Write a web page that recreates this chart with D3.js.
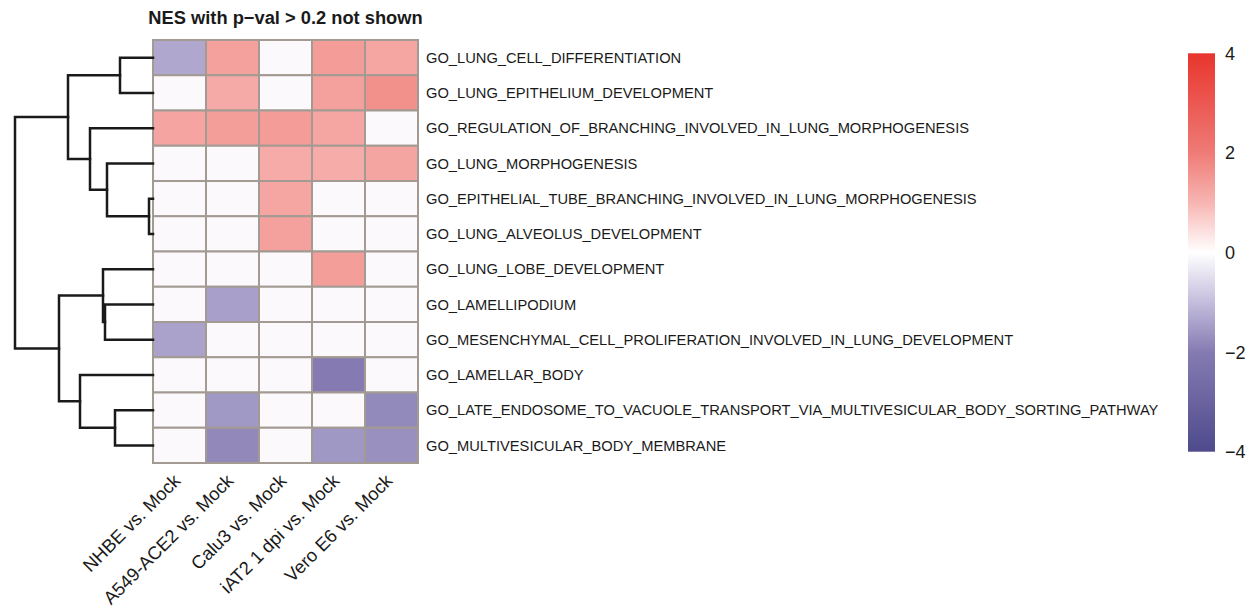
<!DOCTYPE html>
<html>
<head>
	<meta charset="utf-8">
	<script src="https://d3js.org/d3.v7.min.js"></script>
	<style>
		body{
			margin: 0;
			background-color: #ffffff;
		}
		text{
			font-family: "Liberation Sans", Arial, sans-serif;
			fill: #1a1a1a;
		}
	</style>
</head>
<body>
<script type="text/javascript">
	// columns (comparisons) and rows (GO terms)
	var columns = ['NHBE vs. Mock', 'A549-ACE2 vs. Mock', 'Calu3 vs. Mock', 'iAT2 1 dpi vs. Mock', 'Vero E6 vs. Mock'];
	var terms = [
		'GO_LUNG_CELL_DIFFERENTIATION',
		'GO_LUNG_EPITHELIUM_DEVELOPMENT',
		'GO_REGULATION_OF_BRANCHING_INVOLVED_IN_LUNG_MORPHOGENESIS',
		'GO_LUNG_MORPHOGENESIS',
		'GO_EPITHELIAL_TUBE_BRANCHING_INVOLVED_IN_LUNG_MORPHOGENESIS',
		'GO_LUNG_ALVEOLUS_DEVELOPMENT',
		'GO_LUNG_LOBE_DEVELOPMENT',
		'GO_LAMELLIPODIUM',
		'GO_MESENCHYMAL_CELL_PROLIFERATION_INVOLVED_IN_LUNG_DEVELOPMENT',
		'GO_LAMELLAR_BODY',
		'GO_LATE_ENDOSOME_TO_VACUOLE_TRANSPORT_VIA_MULTIVESICULAR_BODY_SORTING_PATHWAY',
		'GO_MULTIVESICULAR_BODY_MEMBRANE'
	];

	// NES per column, one value per term (null = p-val > 0.2, not shown)
	var nhbe     = [-1.33, null, 1.29, null, null, null, null, null, -1.41, null, null, null];
	var a549     = [1.36, 1.19, 1.40, null, null, null, null, -1.44, null, null, -1.55, -1.80];
	var calu3    = [null, null, 1.43, 1.17, 1.26, 1.36, null, null, null, null, null, null];
	var iat2     = [1.43, 1.36, 1.26, 1.16, null, null, 1.40, null, null, -2.0, null, -1.58];
	var veroE6   = [1.26, 1.64, null, 1.28, null, null, null, null, null, null, -1.77, -1.68];
	var nes = [nhbe, a549, calu3, iat2, veroE6];

	// row clustering, R hclust style: negative = leaf (1-based), positive = earlier merge
	var merges = [
		[-5, -6, 0.4],
		[-1, -2, 3.3],
		[-11, -12, 3.8],
		[-4, 1, 4.6],
		[-8, -9, 4.8],
		[-7, 5, 5.0],
		[-3, 4, 6.3],
		[-10, 3, 7.3],
		[2, 7, 8.5],
		[6, 8, 9.4],
		[9, 10, 13.8]
	];

	// legend
	var legendTicks = [4, 2, 0, -2, -4];
	var colorStops = [-4, -2, -1, 0, 1, 2, 4];
	var colorRange = ['#4e4a8c', '#857bb2', '#c4bddc', '#ffffff', '#f7b5b2', '#ef7b76', '#e8352d'];

	var width = 1255, height = 610;
	var svg = d3.select('body').append('svg')
		.attr('width', width)
		.attr('height', height);

	var color = d3.scaleLinear().domain(colorStops).range(colorRange);

	var x = d3.scaleBand().domain(d3.range(columns.length)).range([153, 418]);
	var y = d3.scaleBand().domain(d3.range(terms.length)).range([40, 463]);

	// title
	svg.append('text')
		.attr('x', (153 + 418) / 2)
		.attr('y', 24)
		.attr('text-anchor', 'middle')
		.style('font-size', '18.3px')
		.style('font-weight', 'bold')
		.text('NES with p\u2212val > 0.2 not shown');

	// heatmap cells
	var cells = [];
	nes.forEach(function(col, j) {
		col.forEach(function(v, i) {
			cells.push({row: i, col: j, value: v});
		});
	});

	svg.append('g').selectAll('rect')
		.data(cells)
		.enter()
		.append('rect')
		.attr('x', function(d) { return x(d.col); })
		.attr('y', function(d) { return y(d.row); })
		.attr('width', x.bandwidth())
		.attr('height', y.bandwidth())
		.attr('fill', function(d) { return d.value === null ? '#fbf9fc' : color(d.value); })
		.attr('stroke', '#a39b93')
		.attr('stroke-width', 2);

	// row labels
	svg.append('g').selectAll('text')
		.data(terms)
		.enter()
		.append('text')
		.attr('x', 426)
		.attr('y', function(d, i) { return y(i) + y.bandwidth() / 2; })
		.attr('dy', '0.36em')
		.style('font-size', '14.7px')
		.text(function(d) { return d; });

	// column labels, rotated
	svg.append('g').selectAll('text')
		.data(columns)
		.enter()
		.append('text')
		.attr('transform', function(d, i) {
			return 'translate(' + (x(i) + x.bandwidth() / 2 + 2) + ',' + 482 + ') rotate(-45)';
		})
		.attr('text-anchor', 'end')
		.style('font-size', '18.4px')
		.text(function(d) { return d; });

	// dendrogram
	var dx = d3.scaleLinear().domain([0, 13.8]).range([153, 15]);
	var nodeY = [], nodeH = [];
	function childY(c) { return c < 0 ? y(-c - 1) + y.bandwidth() / 2 : nodeY[c - 1]; }
	function childH(c) { return c < 0 ? 0 : nodeH[c - 1]; }
	var dendro = svg.append('g')
		.attr('fill', 'none')
		.attr('stroke', '#1a1a1a')
		.attr('stroke-width', 2.5)
		.attr('stroke-linecap', 'square');
	merges.forEach(function(m, k) {
		var y1 = childY(m[0]), y2 = childY(m[1]);
		nodeY[k] = (y1 + y2) / 2;
		nodeH[k] = m[2];
		var p = 'M' + dx(childH(m[0])) + ',' + y1 + 'H' + dx(m[2]) + 'V' + y2 + 'H' + dx(childH(m[1]));
		dendro.append('path').attr('d', p);
	});

	// color legend
	var ly = d3.scaleLinear().domain([-4, 4]).range([451.7, 53.3]);
	var grad = svg.append('defs').append('linearGradient')
		.attr('id', 'nesGrad')
		.attr('x1', 0).attr('y1', 1).attr('x2', 0).attr('y2', 0);
	d3.range(-4, 4.01, 0.25).forEach(function(v) {
		grad.append('stop')
			.attr('offset', (v + 4) / 8)
			.attr('stop-color', color(v));
	});
	svg.append('rect')
		.attr('x', 1188)
		.attr('y', ly(4))
		.attr('width', 27)
		.attr('height', ly(-4) - ly(4))
		.attr('fill', 'url(#nesGrad)');

	svg.append('g').selectAll('text')
		.data(legendTicks)
		.enter()
		.append('text')
		.attr('x', 1225)
		.attr('y', function(d) { return ly(d); })
		.attr('dy', '0.36em')
		.style('font-size', '18px')
		.text(function(d) { return d < 0 ? '\u2212' + Math.abs(d) : d; });
</script>
</body>
</html>
